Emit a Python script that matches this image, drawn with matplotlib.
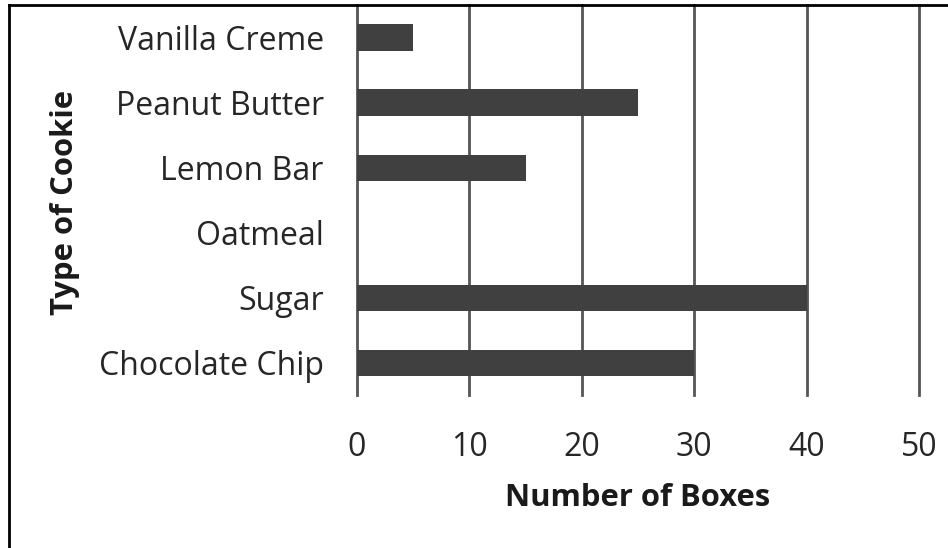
import matplotlib.pyplot as plt
from matplotlib.lines import Line2D

cookies = ["Chocolate Chip", "Sugar", "Oatmeal", "Lemon Bar", "Peanut Butter", "Vanilla Creme"]
boxes = [30, 40, 0, 15, 25, 5]
xticks = [0, 10, 20, 30, 40, 50]

plt.rcParams["font.family"] = ["Open Sans", "DejaVu Sans"]

fig = plt.figure(figsize=(9.48, 5.48), dpi=100)
ax = fig.add_axes([357 / 948, 153 / 548, 562 / 948, 390 / 548])

ax.barh(range(len(cookies)), boxes, height=0.4, color="#404040", zorder=3)

ax.set_xlim(0, 50)
ax.set_ylim(-0.5, len(cookies) - 0.5)
ax.set_xticks(xticks)
ax.set_yticks(range(len(cookies)))
ax.set_yticklabels(cookies)
ax.tick_params(length=0, labelsize=23, colors="#262626")
ax.tick_params(axis="x", pad=26)
ax.tick_params(axis="y", pad=24)
ax.grid(axis="x", color="#555555", linewidth=2, zorder=1)
for line in ax.get_xgridlines():
    line.set_clip_on(False)
for s in ax.spines.values():
    s.set_visible(False)

ax.set_xlabel("Number of Boxes", fontsize=22.3, fontweight="bold", color="#1a1a1a")
ax.set_ylabel("Type of Cookie", fontsize=22.3, fontweight="bold", color="#1a1a1a")
ax.xaxis.set_label_coords(638 / 948, 1 - 498 / 548, transform=fig.transFigure)
ax.yaxis.set_label_coords(65 / 948, 1 - 202 / 548, transform=fig.transFigure)
ax.xaxis.label.set_va("center")
ax.yaxis.label.set_va("center")

# frame around the picture (left and top only)
fig.add_artist(Line2D([9 / 948, 9 / 948], [0, 543 / 548], color="black", linewidth=2, transform=fig.transFigure))
fig.add_artist(Line2D([9 / 948, 1], [543 / 548, 543 / 548], color="black", linewidth=2, transform=fig.transFigure))

plt.savefig("out.png", dpi=100)
